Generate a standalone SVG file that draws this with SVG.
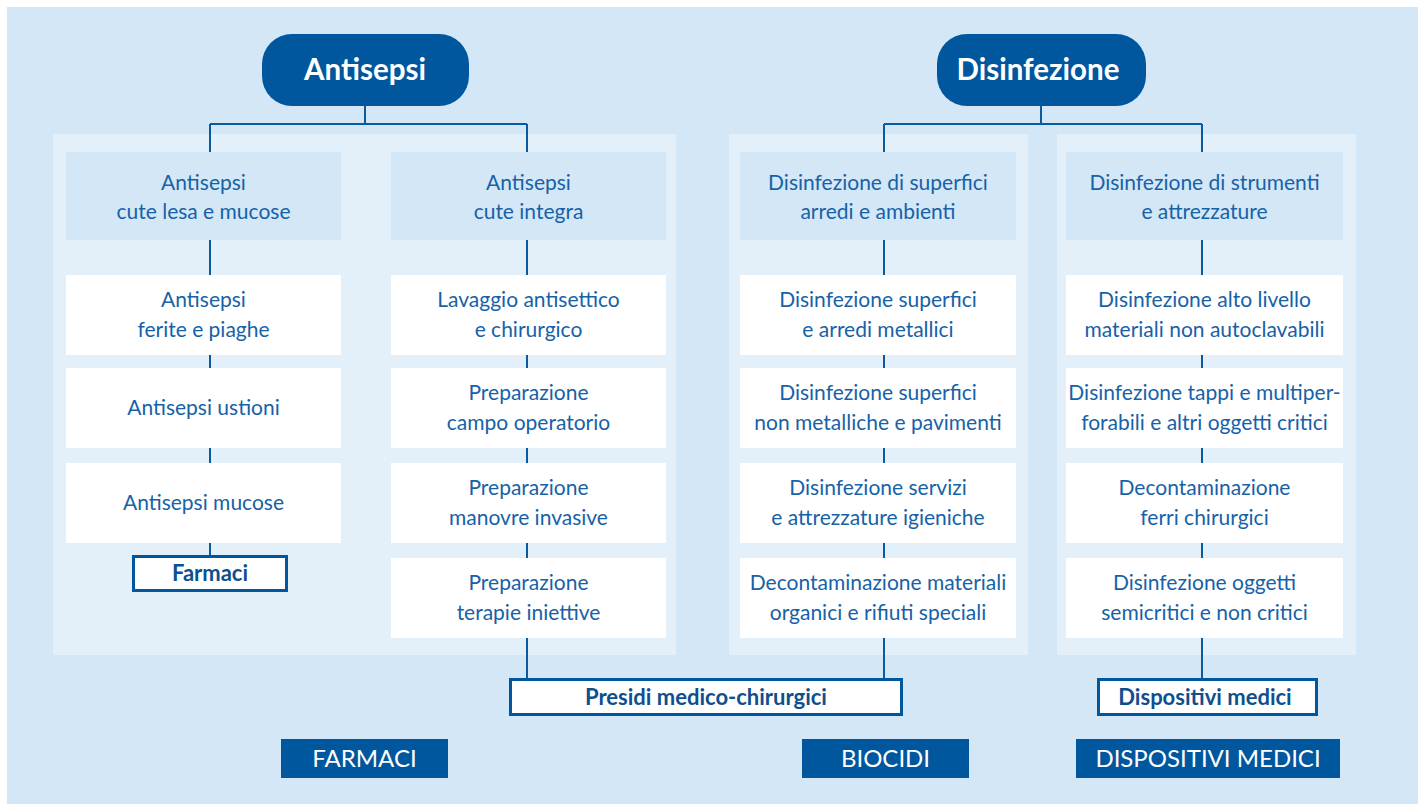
<svg xmlns="http://www.w3.org/2000/svg" width="1418" height="808" viewBox="0 0 1418 808">
<style>
.bg{fill:#d3e7f7}
.panel{fill:#e3f0fa}
.hdr{fill:#d3e7f7}
.wb{fill:#ffffff}
.pill{fill:#00579e}
.lbl{fill:#ffffff;stroke:#00579e;stroke-width:3}
.cat{fill:#00579e}
.conn{stroke:#0a5aa0;stroke-width:2;fill:none}
text{font-family:Lato,"Open Sans","Liberation Sans",sans-serif;text-anchor:middle}
.t{font-size:21px;fill:#1662a8}
.pt{font-size:29.5px;font-weight:bold;fill:#ffffff}
.bt{font-size:22px;font-weight:bold;fill:#0d4f8f}
.ct{font-size:24px;fill:#ffffff}
</style>
<rect class="bg" x="7" y="7" width="1411" height="797"/>
<g id="panels">
<rect class="panel" x="53" y="134" width="623" height="521"/>
<rect class="panel" x="729" y="134" width="299" height="521"/>
<rect class="panel" x="1057" y="134" width="299" height="521"/>
</g>
<g id="connectors">
<path class="conn" d="M365 106V124M210 124H527M210 124V555M527 124V678"/>
<path class="conn" d="M1041 106V124M884 124H1202M884 124V678M1202 124V678"/>
</g>
<g id="antisepsi">
<rect class="pill" x="262" y="34" width="207" height="72" rx="30"/>
<text class="pt" x="365" y="80">Antisepsi</text>
</g>
<g id="disinfezione">
<rect class="pill" x="937" y="34" width="209" height="72" rx="30"/>
<text class="pt" x="1038" y="80">Disinfezione</text>
</g>
<g id="h1"><rect class="hdr" x="66" y="152" width="275" height="88"/>
<text class="t" x="203.5" y="190">Antisepsi</text><text class="t" x="203.5" y="219">cute lesa e mucose</text></g>
<g id="h2"><rect class="hdr" x="391" y="152" width="275" height="88"/>
<text class="t" x="528.5" y="190">Antisepsi</text><text class="t" x="528.5" y="219">cute integra</text></g>
<g id="h3"><rect class="hdr" x="740" y="152" width="276" height="88"/>
<text class="t" x="878" y="190">Disinfezione di superfici</text><text class="t" x="878" y="219">arredi e ambienti</text></g>
<g id="h4"><rect class="hdr" x="1066" y="152" width="277" height="88"/>
<text class="t" x="1204.5" y="190">Disinfezione di strumenti</text><text class="t" x="1204.5" y="219">e attrezzature</text></g>

<g id="c1r1"><rect class="wb" x="66" y="275" width="275" height="80"/>
<text class="t" x="203.5" y="307">Antisepsi</text><text class="t" x="203.5" y="337">ferite e piaghe</text></g>
<g id="c1r2"><rect class="wb" x="66" y="368" width="275" height="80"/>
<text class="t" x="203.5" y="415">Antisepsi ustioni</text></g>
<g id="c1r3"><rect class="wb" x="66" y="463" width="275" height="80"/>
<text class="t" x="203.5" y="510">Antisepsi mucose</text></g>

<g id="c2r1"><rect class="wb" x="391" y="275" width="275" height="80"/>
<text class="t" x="528.5" y="307">Lavaggio antisettico</text><text class="t" x="528.5" y="337">e chirurgico</text></g>
<g id="c2r2"><rect class="wb" x="391" y="368" width="275" height="80"/>
<text class="t" x="528.5" y="400">Preparazione</text><text class="t" x="528.5" y="430">campo operatorio</text></g>
<g id="c2r3"><rect class="wb" x="391" y="463" width="275" height="80"/>
<text class="t" x="528.5" y="495">Preparazione</text><text class="t" x="528.5" y="525">manovre invasive</text></g>
<g id="c2r4"><rect class="wb" x="391" y="558" width="275" height="80"/>
<text class="t" x="528.5" y="590">Preparazione</text><text class="t" x="528.5" y="620">terapie iniettive</text></g>

<g id="c3r1"><rect class="wb" x="740" y="275" width="276" height="80"/>
<text class="t" x="878" y="307">Disinfezione superfici</text><text class="t" x="878" y="337">e arredi metallici</text></g>
<g id="c3r2"><rect class="wb" x="740" y="368" width="276" height="80"/>
<text class="t" x="878" y="400">Disinfezione superfici</text><text class="t" x="878" y="430">non metalliche e pavimenti</text></g>
<g id="c3r3"><rect class="wb" x="740" y="463" width="276" height="80"/>
<text class="t" x="878" y="495">Disinfezione servizi</text><text class="t" x="878" y="525">e attrezzature igieniche</text></g>
<g id="c3r4"><rect class="wb" x="740" y="558" width="276" height="80"/>
<text class="t" x="878" y="590">Decontaminazione materiali</text><text class="t" x="878" y="620">organici e rifiuti speciali</text></g>

<g id="c4r1"><rect class="wb" x="1066" y="275" width="277" height="80"/>
<text class="t" x="1204.5" y="307">Disinfezione alto livello</text><text class="t" x="1204.5" y="337">materiali non autoclavabili</text></g>
<g id="c4r2"><rect class="wb" x="1066" y="368" width="277" height="80"/>
<text class="t" x="1204.5" y="400">Disinfezione tappi e multiper-</text><text class="t" x="1204.5" y="430">forabili e altri oggetti critici</text></g>
<g id="c4r3"><rect class="wb" x="1066" y="463" width="277" height="80"/>
<text class="t" x="1204.5" y="495">Decontaminazione</text><text class="t" x="1204.5" y="525">ferri chirurgici</text></g>
<g id="c4r4"><rect class="wb" x="1066" y="558" width="277" height="80"/>
<text class="t" x="1204.5" y="590">Disinfezione oggetti</text><text class="t" x="1204.5" y="620">semicritici e non critici</text></g>

<g id="farmaci"><rect class="lbl" x="133.5" y="556.5" width="153" height="34"/>
<text class="bt" x="210" y="581">Farmaci</text></g>
<g id="presidi"><rect class="lbl" x="510.5" y="679.5" width="391" height="35"/>
<text class="bt" x="706" y="705">Presidi medico-chirurgici</text></g>
<g id="dispositivi"><rect class="lbl" x="1098.5" y="679.5" width="218" height="35"/>
<text class="bt" x="1205" y="705">Dispositivi medici</text></g>

<g id="cat-farmaci"><rect class="cat" x="281" y="739" width="167" height="39"/>
<text class="ct" x="364.5" y="767">FARMACI</text></g>
<g id="cat-biocidi"><rect class="cat" x="802" y="739" width="167" height="39"/>
<text class="ct" x="885.5" y="767">BIOCIDI</text></g>
<g id="cat-dm"><rect class="cat" x="1076" y="739" width="264" height="39"/>
<text class="ct" x="1208" y="767">DISPOSITIVI MEDICI</text></g>
</svg>
